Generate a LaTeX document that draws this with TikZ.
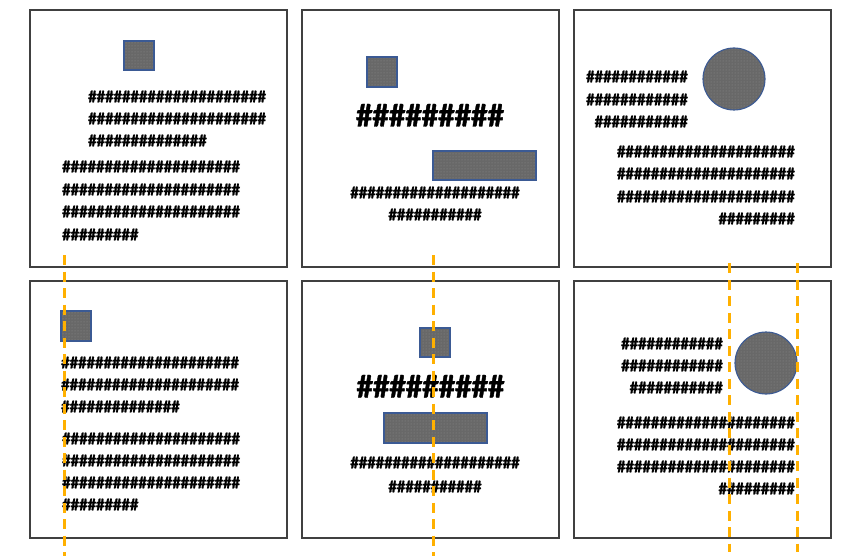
\documentclass[tikz,border=0pt]{standalone}
\usepackage{fontspec}
\setmainfont{Carlito}
\newfontfamily\hashfont[FakeBold=1.3]{Carlito Bold}
\usetikzlibrary{patterns}
\definecolor{frame}{HTML}{404040}
\definecolor{shapefill}{HTML}{686868}
\definecolor{shapedot}{HTML}{8E8E8E}
\definecolor{shapeedge}{HTML}{3B5A94}
\definecolor{guide}{HTML}{FFB000}
\newcount\hcnt
\newcommand\hashrow[1]{\hcnt=0 \loop\ifnum\hcnt<#1 \#\advance\hcnt by 1 \repeat}
\tikzset{
  panel/.style={draw=frame, line width=1.2pt},
  blob/.style={draw=shapeedge, line width=1.1pt, preaction={fill=shapefill}, pattern=dots, pattern color=shapedot},
  hl/.style={font=\hashfont\fontsize{17}{20}\selectfont, inner sep=0pt, anchor=base west},
  hr/.style={hl, anchor=base east},
  hc/.style={hl, anchor=base},
  big/.style={font=\hashfont\fontsize{33}{38}\selectfont, inner sep=0pt, anchor=base},
  guideline/.style={draw=guide, line width=3pt, dash pattern=on 10pt off 6.5pt},
}
\begin{document}
\begin{tikzpicture}[x=1pt,y=-1pt]
\useasboundingbox (0,0) rectangle (851,556);
% panels
\draw[panel] (30,10) rectangle (287,267);
\draw[panel] (302,10) rectangle (559,267);
\draw[panel] (574,10) rectangle (831,267);
\draw[panel] (30,281) rectangle (287,538);
\draw[panel] (302,281) rectangle (559,538);
\draw[panel] (574,281) rectangle (831,538);

% panel 1
\draw[blob] (124,41) rectangle (154,70);
\node[hl] (a1) at (88,102.3) {\hashrow{21}};
\node[hl] (a2) at (88,124.3) {\hashrow{21}};
\node[hl] (a3) at (88,146.3) {\hashrow{14}};
\node[hl] (a4) at (62,172.3) {\hashrow{21}};
\node[hl] (a5) at (62,195.3) {\hashrow{21}};
\node[hl] (a6) at (62,217.3) {\hashrow{21}};
\node[hl] (a7) at (62,240.3) {\hashrow{9}};

% panel 2
\draw[blob] (367,57) rectangle (397,87);
\node[big] (b1) at (430,126.5) {\hashrow{9}};
\draw[blob] (433,151) rectangle (536,180);
\node[hc] (b2) at (435,198.3) {\hashrow{20}};
\node[hc] (b3) at (435,220.3) {\hashrow{11}};

% panel 3
\draw[blob] (734,79) circle (31);
\node[hr] (c1) at (688,82.3) {\hashrow{12}};
\node[hr] (c2) at (688,105.3) {\hashrow{12}};
\node[hr] (c3) at (688,127.3) {\hashrow{11}};
\node[hr] (c4) at (795,157.3) {\hashrow{21}};
\node[hr] (c5) at (795,179.3) {\hashrow{21}};
\node[hr] (c6) at (795,202.3) {\hashrow{21}};
\node[hr] (c7) at (795,224.3) {\hashrow{9}};

% panel 4
\draw[blob] (61,311) rectangle (91,341);
\node[hl] (d1) at (61,368.3) {\hashrow{21}};
\node[hl] (d2) at (61,390.3) {\hashrow{21}};
\node[hl] (d3) at (61,412.3) {\hashrow{14}};
\node[hl] (d4) at (62,444.3) {\hashrow{21}};
\node[hl] (d5) at (62,466.3) {\hashrow{21}};
\node[hl] (d6) at (62,488.3) {\hashrow{21}};
\node[hl] (d7) at (62,510.3) {\hashrow{9}};

% panel 5
\draw[blob] (420,328) rectangle (450,357);
\node[big] (e1) at (430.5,397.5) {\hashrow{9}};
\draw[blob] (384,413) rectangle (487,443);
\node[hc] (e2) at (435,468.3) {\hashrow{20}};
\node[hc] (e3) at (435,492.3) {\hashrow{11}};

% panel 6
\draw[blob] (766,363) circle (31);
\node[hr] (f1) at (723,349.3) {\hashrow{12}};
\node[hr] (f2) at (723,371.3) {\hashrow{12}};
\node[hr] (f3) at (723,393.3) {\hashrow{11}};
\node[hr] (f4) at (795,428.3) {\hashrow{21}};
\node[hr] (f5) at (795,450.3) {\hashrow{21}};
\node[hr] (f6) at (795,472.3) {\hashrow{21}};
\node[hr] (f7) at (795,494.3) {\hashrow{9}};

% guides
\coordinate (g1t) at (64,255);  \coordinate (g1b) at (64,556);
\coordinate (g2t) at (433,255); \coordinate (g2b) at (433,556);
\coordinate (g3t) at (729,263); \coordinate (g3b) at (729,552);
\coordinate (g4t) at (797,263); \coordinate (g4b) at (797,552);
\draw[guideline] (g1t) -- (g1b);
\draw[guideline] (g2t) -- (g2b);
\draw[guideline] (g3t) -- (g3b);
\draw[guideline] (g4t) -- (g4b);
\end{tikzpicture}
\end{document}
